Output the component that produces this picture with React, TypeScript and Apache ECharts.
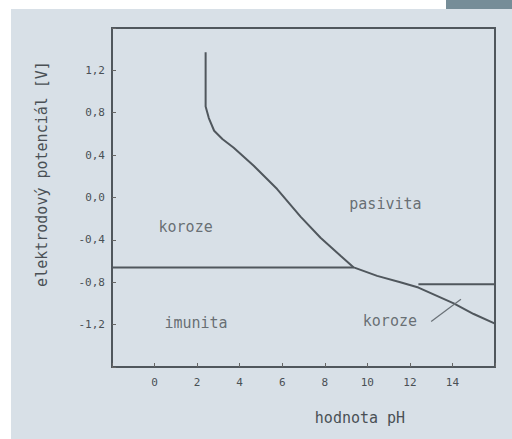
import React, { useEffect, useRef } from "react";
import * as echarts from "echarts";

// tick labels shown on the axes
const xTickValues = [0, 2, 4, 6, 8, 10, 12, 14];
const yTickValues = [1.2, 0.8, 0.4, 0.0, -0.4, -0.8, -1.2];

// boundary curve (pH, potential V)
const curvePH = [2.4, 2.4, 2.55, 2.8, 3.2, 3.72, 4.66, 5.76, 6.86, 7.8, 8.74, 9.36, 10.46, 11.55, 12.4, 14.06, 15.0, 16.0];
const curveE = [1.37, 0.86, 0.75, 0.63, 0.55, 0.47, 0.3, 0.08, -0.18, -0.38, -0.55, -0.66, -0.74, -0.8, -0.85, -1.0, -1.1, -1.19];

// horizontal boundaries
const lowLinePH = [-2, 9.36];
const lowLineE = [-0.66, -0.66];
const rightLinePH = [12.4, 16];
const rightLineE = [-0.82, -0.82];

// leader line from the lower "koroze" label
const leaderPH = [13.0, 14.4];
const leaderE = [-1.17, -0.96];

// region labels
const regionNames = ["koroze", "pasivita", "imunita", "koroze"];
const regionPH = [1.46, 10.85, 1.95, 11.06];
const regionE = [-0.28, -0.06, -1.18, -1.17];

const zip = (a: number[], b: number[]) => a.map((v, i) => [v, b[i]]);

const LINE = "#50575d";
const TEXT = "#4a5055";
const MONO = "'DejaVu Sans Mono', 'Liberation Mono', monospace";

export default function App() {
  const ref = useRef<HTMLDivElement>(null);
  useEffect(() => {
    if (!ref.current) return;
    const chart = echarts.init(ref.current, undefined, { renderer: "svg" });
    const lineStyle = (w: number, c = LINE) => ({ width: w, color: c });
    chart.setOption({
      animation: false,
      backgroundColor: "#ffffff",
      graphic: [
        { type: "rect", z: -10, shape: { x: 11, y: 9, width: 501, height: 430 }, style: { fill: "#d8e0e7" } },
        { type: "rect", z: -10, shape: { x: 446, y: 0, width: 66, height: 9 }, style: { fill: "#768d98" } },
        {
          type: "text",
          x: 42,
          y: 174,
          rotation: Math.PI / 2,
          style: {
            text: "elektrodový potenciál [V]",
            align: "center",
            verticalAlign: "middle",
            fill: TEXT,
            font: `15px ${MONO}`,
          },
        },
        {
          type: "text",
          x: 360,
          y: 418,
          style: {
            text: "hodnota pH",
            align: "center",
            verticalAlign: "middle",
            fill: TEXT,
            font: `15px ${MONO}`,
          },
        },
      ],
      grid: {
        left: 112,
        right: 17,
        top: 28,
        bottom: 72,
        show: true,
        borderColor: LINE,
        borderWidth: 2,
        backgroundColor: "transparent",
      },
      xAxis: {
        type: "value",
        min: -2,
        max: 16,
        interval: 2,
        splitLine: { show: false },
        axisLine: { show: true, onZero: false, lineStyle: { color: LINE, width: 2 } },
        axisTick: { show: true, inside: true, length: 4, lineStyle: { color: "#666" } },
        axisLabel: {
          margin: 10,
          color: TEXT,
          fontFamily: MONO,
          fontSize: 11,
          formatter: (v: number) => (xTickValues.some((t) => Math.abs(t - v) < 1e-6) ? String(Math.round(v)) : ""),
        },
      },
      yAxis: {
        type: "value",
        min: -1.6,
        max: 1.6,
        interval: 0.4,
        splitLine: { show: false },
        axisLine: { show: true, onZero: false, lineStyle: { color: LINE, width: 2 } },
        axisTick: { show: true, inside: true, length: 4, lineStyle: { color: "#666" } },
        axisLabel: {
          margin: 7,
          color: TEXT,
          fontFamily: MONO,
          fontSize: 11,
          formatter: (v: number) =>
            yTickValues.some((t) => Math.abs(t - v) < 1e-6) ? v.toFixed(1).replace(".", ",").replace("-0,0", "0,0") : "",
        },
      },
      series: [
        { type: "line", data: zip(curvePH, curveE), symbol: "none", lineStyle: lineStyle(2), silent: true },
        { type: "line", data: zip(lowLinePH, lowLineE), symbol: "none", lineStyle: lineStyle(2), silent: true },
        { type: "line", data: zip(rightLinePH, rightLineE), symbol: "none", lineStyle: lineStyle(2), silent: true },
        { type: "line", data: zip(leaderPH, leaderE), symbol: "none", lineStyle: lineStyle(1.2, "#6a7177"), silent: true },
        {
          type: "scatter",
          symbolSize: 1,
          itemStyle: { color: "rgba(0,0,0,0)" },
          silent: true,
          data: regionNames.map((n, i) => ({ name: n, value: [regionPH[i], regionE[i]] })),
          label: {
            show: true,
            position: "inside",
            formatter: (p: any) => p.name,
            color: TEXT,
            fontFamily: MONO,
            fontSize: 15,
          },
        },
      ],
    });
    return () => chart.dispose();
  }, []);
  return <div ref={ref} style={{ position: "fixed", left: 0, top: 0, width: 512, height: 439 }} />;
}
